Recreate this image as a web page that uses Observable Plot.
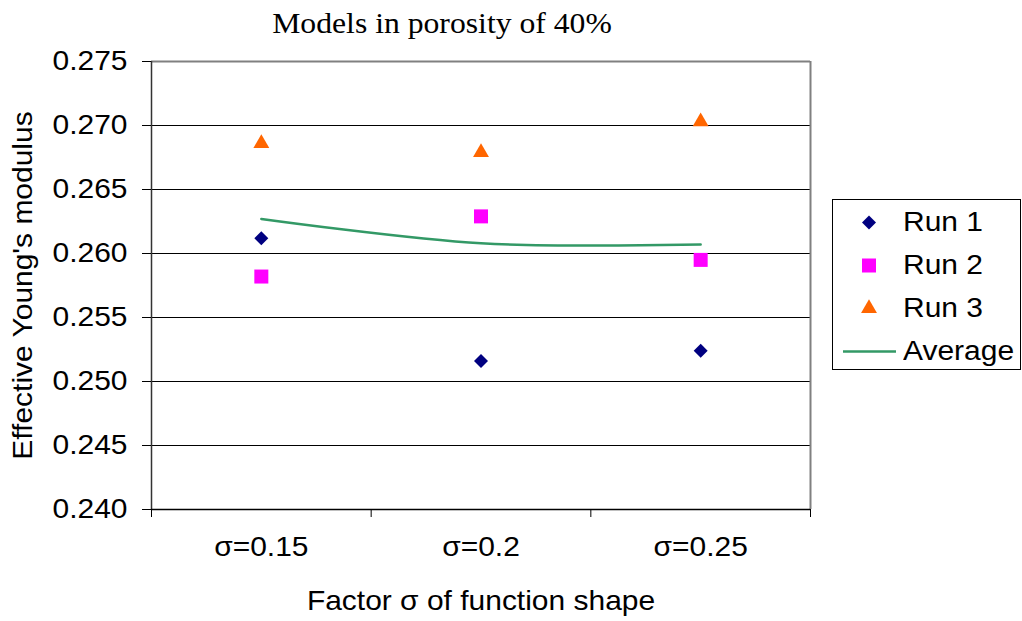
<!DOCTYPE html>
<html><head><meta charset="utf-8">
<script src="https://cdn.jsdelivr.net/npm/d3@7"></script>
<script src="https://cdn.jsdelivr.net/npm/@observablehq/plot@0.6"></script>
<style>
body{margin:0;background:#fff;}
#wrap{position:relative;width:1022px;height:621px;font-family:"Liberation Sans",Arial,sans-serif;}
#title{position:absolute;left:0;top:8px;width:884px;text-align:center;font-family:"Liberation Serif","Times New Roman",serif;font-size:30px;line-height:30px;color:#000;transform:scaleX(1.056);transform-origin:442px 0;}
#legend{position:absolute;left:832px;top:199px;width:189px;height:171px;border:1px solid #000;box-sizing:border-box;padding-top:1px;background:#fff;}
.row{display:flex;align-items:center;height:43px;font-size:27px;color:#000;white-space:nowrap;}
.row svg{flex:none;}
.row span{display:inline-block;transform:scaleX(1.11);transform-origin:0 50%;}
</style>
</head><body>
<div id="wrap">
<div id="chart"></div>
<div id="title">Models in porosity of 40%</div>
<div id="legend"></div>
</div>
<script>
const categories = ["σ=0.15", "σ=0.2", "σ=0.25"];
const run1 = [0.2612, 0.2516, 0.2524];
const run2 = [0.2582, 0.2629, 0.2595];
const run3 = [0.2686, 0.2679, 0.2703];
const average = [0.2627, 0.2608, 0.2607];
const yTicks = [0.240, 0.245, 0.250, 0.255, 0.260, 0.265, 0.270, 0.275];
const seriesNames = ["Run 1", "Run 2", "Run 3", "Average"];
const seriesColors = ["#000080", "#FF00FF", "#FF6600", "#339966"];
const seriesSymbols = ["diamond2", "square", "triangle", null];
const seriesR = [6.3, 7.9, 5.9, 0];

const pos = categories.map((c, i) => i + 1);
const bounds = [0.5].concat(pos.map(p => p + 0.5));
const xMin = bounds[0], xMax = bounds[bounds.length - 1];
const yMin = yTicks[0], yMax = yTicks[yTicks.length - 1];
const gridTicks = yTicks.slice(1, -1);

const runs = [run1, run2, run3];
const rowsFor = vals => vals.map((v, i) => ({pos: pos[i], cat: categories[i], value: v}));

const dotMarks = runs.map((vals, k) => Plot.dot(rowsFor(vals), {
  x: "pos", y: "value", symbol: seriesSymbols[k], r: seriesR[k],
  fill: seriesColors[k], stroke: "none"
}));

const chart = Plot.plot({
  width: 1022, height: 621,
  marginLeft: 151, marginRight: 212, marginTop: 61, marginBottom: 112,
  style: {fontFamily: "'Liberation Sans', Arial, sans-serif", fontSize: "27px", background: "#fff", color: "#000"},
  x: {type: "linear", domain: [xMin, xMax]},
  y: {domain: [yMin, yMax]},
  marks: [
    Plot.ruleY(gridTicks, {stroke: "#000", strokeWidth: 1}),
    Plot.ruleY([yMax], {stroke: "#808080", strokeWidth: 2}),
    Plot.ruleX([xMax], {stroke: "#808080", strokeWidth: 2}),
    Plot.ruleX([xMin], {stroke: "#333", strokeWidth: 1.5}),
    Plot.ruleY([yMin], {stroke: "#000", strokeWidth: 1.5}),
    Plot.axisY({ticks: yTicks, tickFormat: d3.format(".3f"), tickSize: 9, tickPadding: 15, fontSize: 27,
      label: "Effective Young's modulus", labelAnchor: "center", labelOffset: 139, labelArrow: "none"}),
    Plot.axisX({ticks: bounds, tickFormat: () => "", tickSize: 8, label: null}),
    Plot.axisX({ticks: pos, tickFormat: p => categories[p - 1], tickSize: 0, tickPadding: 27, fontSize: 27,
      label: "Factor σ of function shape", labelAnchor: "center", labelOffset: 100, labelArrow: "none"}),
    Plot.line(rowsFor(average), {x: "pos", y: "value", curve: "catmull-rom", stroke: seriesColors[3], strokeWidth: 2.5}),
    ...dotMarks
  ]
});
document.getElementById("chart").appendChild(chart);

// widen glyphs horizontally to match the reference's stretched text
chart.querySelectorAll("text").forEach(t => {
  const tr = t.getAttribute("transform");
  if (tr) t.setAttribute("transform", tr + " scale(1.11,1)");
  else {
    const x = +(t.getAttribute("x") || 0), y = +(t.getAttribute("y") || 0);
    t.removeAttribute("x"); t.removeAttribute("y");
    t.setAttribute("transform", `translate(${x},${y}) scale(1.11,1)`);
  }
});

// legend
const legend = d3.select("#legend");
const symMap = {diamond2: d3.symbolDiamond2, square: d3.symbolSquare, triangle: d3.symbolTriangle};
seriesNames.forEach((name, k) => {
  const row = legend.append("div").attr("class", "row");
  const svg = row.append("svg").attr("width", 70).attr("height", 43);
  if (seriesSymbols[k]) {
    svg.append("path")
      .attr("transform", "translate(36,21.5)")
      .attr("d", d3.symbol(symMap[seriesSymbols[k]], Math.PI * seriesR[k] * seriesR[k])())
      .attr("fill", seriesColors[k]);
  } else {
    svg.append("line").attr("x1", 10).attr("x2", 63).attr("y1", 21.5).attr("y2", 21.5)
      .attr("stroke", seriesColors[k]).attr("stroke-width", 2.5);
  }
  row.append("span").text(name);
});
</script>
</body></html>
